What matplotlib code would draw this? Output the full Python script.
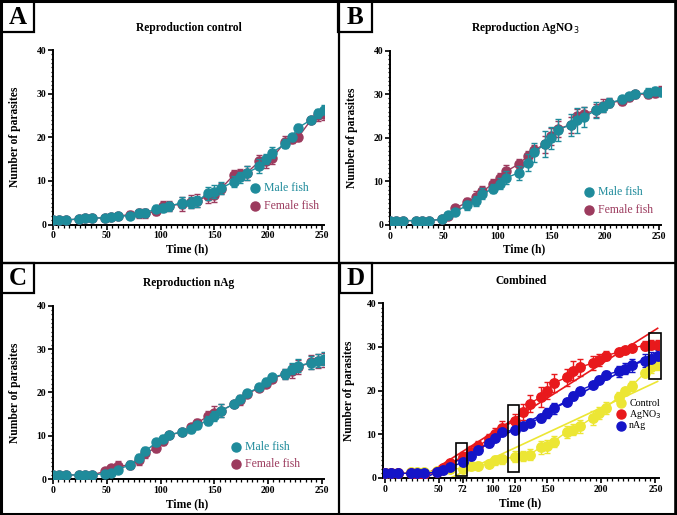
import numpy as np
import matplotlib
matplotlib.use("Agg")
import matplotlib.pyplot as plt
from matplotlib.patches import Rectangle
from matplotlib.lines import Line2D
from matplotlib.ticker import MultipleLocator

plt.rcParams['font.family'] = ['Liberation Serif', 'DejaVu Serif']

W, H = 677, 515

# ---------------- data ----------------
time_h = [0, 6, 12, 24, 30, 36, 48, 54, 60, 72, 80, 86, 96, 102, 108, 120, 128, 134,
          144, 150, 156, 168, 174, 180, 192, 198, 204, 216, 222, 228, 240, 246, 252]

ctrl_male = [1, 1, 1, 1.3, 1.4, 1.5, 1.5, 1.8, 1.9, 2.0, 2.6, 2.7, 3.6, 3.8, 4.2, 5.0, 5.0, 5.3,
             7.2, 7.5, 8.3, 9.8, 10.8, 11.8, 13.3, 15.0, 16.5, 18.5, 20.0, 22.2, 24.0, 25.5, 26.3]
ctrl_male_err = [0.2, 0.2, 0.2, 0.3, 0.3, 0.3, 0.4, 0.4, 0.4, 0.6, 0.8, 0.8, 0.8, 0.9, 1.0, 1.2, 1.2, 1.2,
                 1.5, 1.5, 1.4, 1.3, 1.3, 1.5, 1.6, 1.2, 1.2, 1.0, 0.8, 0.8, 0.6, 1.0, 1.0]
ctrl_female = [1, 1, 1, 1.3, 1.4, 1.5, 1.5, 1.8, 2.0, 2.2, 2.6, 2.6, 3.0, 4.3, 4.3, 4.7, 5.2, 5.5,
               6.5, 6.7, 8.2, 11.3, 11.5, 11.8, 14.5, 14.5, 15.3, 19.0, 19.5, 20.0, 24.0, 25.0, 25.3]
ctrl_female_err = [0.2, 0.2, 0.2, 0.3, 0.3, 0.3, 0.4, 0.4, 0.4, 0.8, 1.0, 1.0, 0.8, 1.2, 1.2, 1.7, 1.5, 1.5,
                   1.5, 1.5, 1.2, 1.3, 1.3, 1.7, 1.5, 1.5, 1.5, 1.2, 0.8, 0.8, 0.6, 1.3, 1.3]

agno3_male = [1, 1, 1, 1, 1, 1, 1.3, 2.3, 3.0, 4.5, 5.5, 7.2, 8.3, 9.5, 10.8, 12.0, 14.3, 16.7,
              18.5, 20.0, 21.8, 23.0, 24.0, 24.8, 26.3, 27.0, 28.0, 28.8, 29.5, 30.0, 30.3, 30.7, 30.5]
agno3_male_err = [0.2, 0.2, 0.2, 0.2, 0.2, 0.2, 0.3, 0.5, 0.6, 1.0, 1.2, 1.2, 1.0, 1.2, 1.5, 1.6, 2.0, 2.2,
                  3.0, 2.5, 2.5, 2.5, 2.8, 2.3, 1.8, 1.2, 1.0, 0.8, 0.6, 0.6, 1.0, 1.0, 1.0]
agno3_female = [1, 1, 1, 1, 1, 1, 1.3, 2.0, 3.8, 5.2, 6.5, 7.7, 9.5, 10.8, 12.3, 14.0, 15.8, 17.2,
                18.5, 20.3, 22.0, 23.0, 25.0, 25.5, 26.3, 27.3, 28.0, 28.5, 29.3, 30.0, 30.0, 30.3, 30.8]
agno3_female_err = [0.2, 0.2, 0.2, 0.2, 0.2, 0.2, 0.3, 0.5, 0.8, 1.0, 1.2, 1.2, 1.0, 1.2, 1.5, 1.2, 1.2, 1.2,
                    2.0, 2.0, 1.8, 1.8, 1.5, 1.5, 1.5, 1.5, 1.0, 1.0, 0.8, 0.8, 1.0, 1.0, 1.0]

nag_male = [1, 1, 1, 1, 1, 1, 1.3, 1.5, 2.2, 3.4, 5.0, 6.5, 8.5, 9.4, 10.3, 10.9, 11.5, 12.5,
            13.5, 14.6, 15.8, 17.3, 18.5, 19.8, 21.2, 22.5, 23.5, 24.3, 25.5, 26.2, 26.8, 27.3, 27.8]
nag_male_err = [0.2, 0.2, 0.2, 0.2, 0.2, 0.2, 0.4, 0.5, 0.6, 0.8, 0.9, 0.9, 0.9, 0.8, 0.7, 0.6, 0.8, 0.8,
                1.0, 1.2, 1.5, 0.6, 0.8, 0.6, 0.6, 0.8, 0.8, 1.2, 1.2, 1.5, 1.5, 1.5, 1.5]
nag_female = [1, 1, 1, 1, 1, 1, 1.8, 2.5, 3.0, 3.3, 4.5, 6.0, 7.3, 8.8, 10.2, 10.9, 12.0, 13.0,
              14.5, 15.3, 15.8, 17.3, 18.3, 19.7, 21.0, 22.0, 23.2, 24.3, 25.0, 25.8, 27.0, 27.2, 27.5]
nag_female_err = [0.2, 0.2, 0.2, 0.2, 0.2, 0.2, 0.5, 0.8, 1.2, 1.0, 1.2, 1.0, 1.0, 0.8, 0.7, 0.6, 0.8, 1.0,
                  1.2, 1.5, 1.5, 0.6, 1.2, 0.6, 0.6, 0.8, 0.8, 1.2, 1.6, 1.6, 1.6, 1.6, 1.6]

comb_control = [1, 1, 1, 1.2, 1.3, 1.4, 1.5, 1.8, 2.0, 2.1, 2.6, 2.7, 3.2, 4.0, 4.2, 4.8, 5.0, 5.3,
                7.0, 7.2, 8.3, 10.5, 11.0, 11.8, 13.8, 14.8, 16.0, 18.5, 19.8, 21.0, 24.0, 25.3, 25.8]
comb_control_err = [0.2, 0.2, 0.2, 0.3, 0.3, 0.3, 0.4, 0.4, 0.4, 0.6, 0.8, 0.8, 0.8, 1.0, 1.0, 1.3, 1.2, 1.2,
                    1.5, 1.5, 1.3, 1.3, 1.3, 1.5, 1.6, 1.4, 1.4, 1.1, 0.8, 1.2, 0.6, 1.2, 1.2]
comb_agno3 = [1, 1, 1, 1, 0.8, 0.8, 1.3, 2.2, 3.3, 4.8, 6.0, 7.2, 8.8, 10.0, 11.5, 13.0, 15.0, 17.0,
              18.5, 20.0, 21.7, 23.0, 24.5, 25.3, 26.3, 27.0, 28.0, 28.8, 29.3, 29.8, 30.3, 30.5, 30.5]
comb_agno3_err = [0.2, 0.2, 0.2, 0.2, 0.2, 0.2, 0.3, 0.5, 0.7, 1.0, 1.2, 1.2, 1.2, 1.3, 1.5, 1.6, 1.8, 2.0,
                  2.2, 2.0, 2.0, 2.0, 2.2, 2.0, 1.6, 1.4, 1.0, 0.8, 0.7, 0.7, 1.0, 1.0, 1.0]
comb_nag = [1, 1, 1, 1, 1, 1, 1.3, 1.8, 2.4, 3.5, 5.0, 6.3, 8.0, 9.2, 10.4, 11.0, 11.8, 12.6,
            13.7, 14.8, 15.9, 17.3, 18.8, 20.0, 21.3, 22.5, 23.6, 24.4, 25.0, 25.8, 26.8, 27.3, 27.8]
comb_nag_err = [0.2, 0.2, 0.2, 0.2, 0.2, 0.2, 0.4, 0.6, 0.8, 0.8, 1.0, 0.9, 0.9, 0.8, 0.7, 0.6, 0.8, 0.8,
                1.0, 1.2, 1.2, 0.6, 0.9, 0.6, 0.6, 0.8, 0.8, 1.2, 1.3, 1.5, 1.5, 1.5, 1.5]

panel_titles = ["Reproduction control", "Reproduction AgNO$_3$", "Reproduction nAg", "Combined"]
panel_letters = ["A", "B", "C", "D"]
sex_labels = ["Male fish", "Female fish"]
comb_labels = ["Control", "AgNO$_3$", "nAg"]
fit_start_h = 36
highlight_x = [(65.5, 76.0), (114.0, 124.0), (244.5, 254.7)]
highlight_y = [(0.5, 8.0), (1.4, 16.7), (22.6, 33.1)]
d_xticks = [0, 50, 72, 100, 120, 150, 200, 250]

TEAL = '#1f8b9b'
MAROON = '#9c3b5e'
RED = '#e8191c'
BLUE = '#1414c8'
YELLOW = '#ece634'

fig = plt.figure(figsize=(W / 100, H / 100), dpi=100)


def px_axes(left, top, width, height):
    return fig.add_axes([left / W, 1 - (top + height) / H, width / W, height / H])


def style(ax, xlim):
    ax.set_xlim(*xlim)
    ax.set_ylim(0, 40)
    for s in ['top', 'right']:
        ax.spines[s].set_visible(False)
    for s in ['left', 'bottom']:
        ax.spines[s].set_linewidth(1.4)
    ax.yaxis.set_major_locator(MultipleLocator(10))
    ax.yaxis.set_minor_locator(MultipleLocator(1))
    ax.xaxis.set_minor_locator(MultipleLocator(5))
    ax.tick_params(which='major', length=3.5, width=1.2, labelsize=7, pad=1.5)
    ax.tick_params(which='minor', length=1.8, width=0.9)
    ax.set_xlabel('Time (h)', fontsize=8.3, fontweight='bold')
    ax.set_ylabel('Number of parasites', fontsize=8.3, fontweight='bold')
    ax.xaxis.label.set_va('center')
    ax.yaxis.label.set_va('center')


def bold_ticks(ax):
    for lab in ax.get_xticklabels() + ax.get_yticklabels():
        lab.set_fontweight('bold')


def sex_panel(ax, male, male_err, female, female_err, title, leg_x, leg_y):
    ax.errorbar(time_h, female, yerr=female_err, color=MAROON, marker='o', ms=6.5, lw=1.0,
                elinewidth=1.0, capsize=2.5, capthick=1.0, zorder=3)
    ax.errorbar(time_h, male, yerr=male_err, color=TEAL, marker='o', ms=6.5, lw=1.0,
                elinewidth=1.0, capsize=2.5, capthick=1.0, zorder=4)
    style(ax, (0, 252))
    ax.set_xticks([0, 50, 100, 150, 200, 250])
    bold_ticks(ax)
    ax.set_title(title, fontsize=8.3, fontweight='bold', pad=14)
    for i, (lab, col) in enumerate(zip(sex_labels, [TEAL, MAROON])):
        y = leg_y[i]
        ax.plot([leg_x], [y], 'o', ms=6.5, color=col, transform=ax.transAxes, clip_on=False)
        ax.text(leg_x + 0.035, y, lab, color=col, fontsize=8.5, transform=ax.transAxes,
                ha='left', va='center')


axA = px_axes(53, 50, 271, 174.5)
sex_panel(axA, ctrl_male, ctrl_male_err, ctrl_female, ctrl_female_err, panel_titles[0],
          0.745, [0.207, 0.108])
axB = px_axes(390, 50.5, 271, 174.5)
sex_panel(axB, agno3_male, agno3_male_err, agno3_female, agno3_female_err, panel_titles[1],
          0.734, [0.19, 0.086])
axC = px_axes(53, 305.7, 271, 173.6)
sex_panel(axC, nag_male, nag_male_err, nag_female, nag_female_err, panel_titles[2],
          0.675, [0.184, 0.086])

for ax in (axA, axB, axC):
    ax.yaxis.set_label_coords(-0.14, 0.5)
    ax.xaxis.set_label_coords(0.496, -0.142)

# Panel D
axD = px_axes(383, 303.3, 275.7, 174.4)
t = np.array(time_h)
series = [(comb_control, comb_control_err, YELLOW), (comb_agno3, comb_agno3_err, RED),
          (comb_nag, comb_nag_err, BLUE)]
for vals, errs, col in series:
    axD.errorbar(time_h, vals, yerr=errs, color=col, marker='o', ms=6.8, lw=1.0,
                 elinewidth=1.0, capsize=2.5, capthick=1.0, zorder=3)
    v = np.array(vals)
    m = t >= fit_start_h
    k, b = np.polyfit(t[m], v[m], 1)
    xs = np.array([fit_start_h, time_h[-1]])
    axD.plot(xs, k * xs + b, color=col, lw=1.2, zorder=2)
style(axD, (-1.5, 253))
axD.set_xticks(d_xticks)
bold_ticks(axD)
axD.set_title(panel_titles[3], fontsize=8.3, fontweight='bold', pad=14)
axD.yaxis.set_label_coords(-0.124, 0.5)
axD.xaxis.set_label_coords(0.497, -0.147)
for (x0, x1), (y0, y1) in zip(highlight_x, highlight_y):
    axD.add_patch(Rectangle((x0, y0), x1 - x0, y1 - y0, fill=False, ec='black', lw=1.2,
                            zorder=6, clip_on=False))
for i, (lab, col) in enumerate(zip(comb_labels, [YELLOW, RED, BLUE])):
    y = [0.427, 0.364, 0.298][i]
    axD.plot([0.863], [y], 'o', ms=6.5, color=col, transform=axD.transAxes, clip_on=False, zorder=7)
    axD.text(0.893, y, lab, fontsize=7.2, transform=axD.transAxes, ha='left', va='center', zorder=7)


# Frame lines
def fline(x0, y0, x1, y1, lw):
    fig.add_artist(Line2D([x0 / W, x1 / W], [1 - y0 / H, 1 - y1 / H], color='black', lw=lw,
                          transform=fig.transFigure, solid_capstyle='projecting'))


fline(1, 1, 676, 1, 2.2)
fline(1, 514, 676, 514, 2.2)
fline(1, 1, 1, 514, 2.2)
fline(675.5, 1, 675.5, 514, 2.6)
fline(338.5, 0, 338.5, 515, 1.6)
fline(0, 262.5, 677, 262.5, 1.6)

boxes = [(1, 1, 33, 31), (338, 1, 34, 31), (1, 263, 33, 30), (340, 263, 32, 30)]
for (bx, by, bw, bh), letter in zip(boxes, panel_letters):
    fig.add_artist(Rectangle((bx / W, 1 - (by + bh) / H), bw / W, bh / H, fill=True, fc='white',
                             ec='black', lw=1.6, transform=fig.transFigure))
    fig.text((bx + bw / 2) / W, 1 - (by + bh / 2 + 0.5) / H, letter, fontsize=18,
             fontweight='bold', ha='center', va='center')

fig.savefig('out.png', dpi=100)
